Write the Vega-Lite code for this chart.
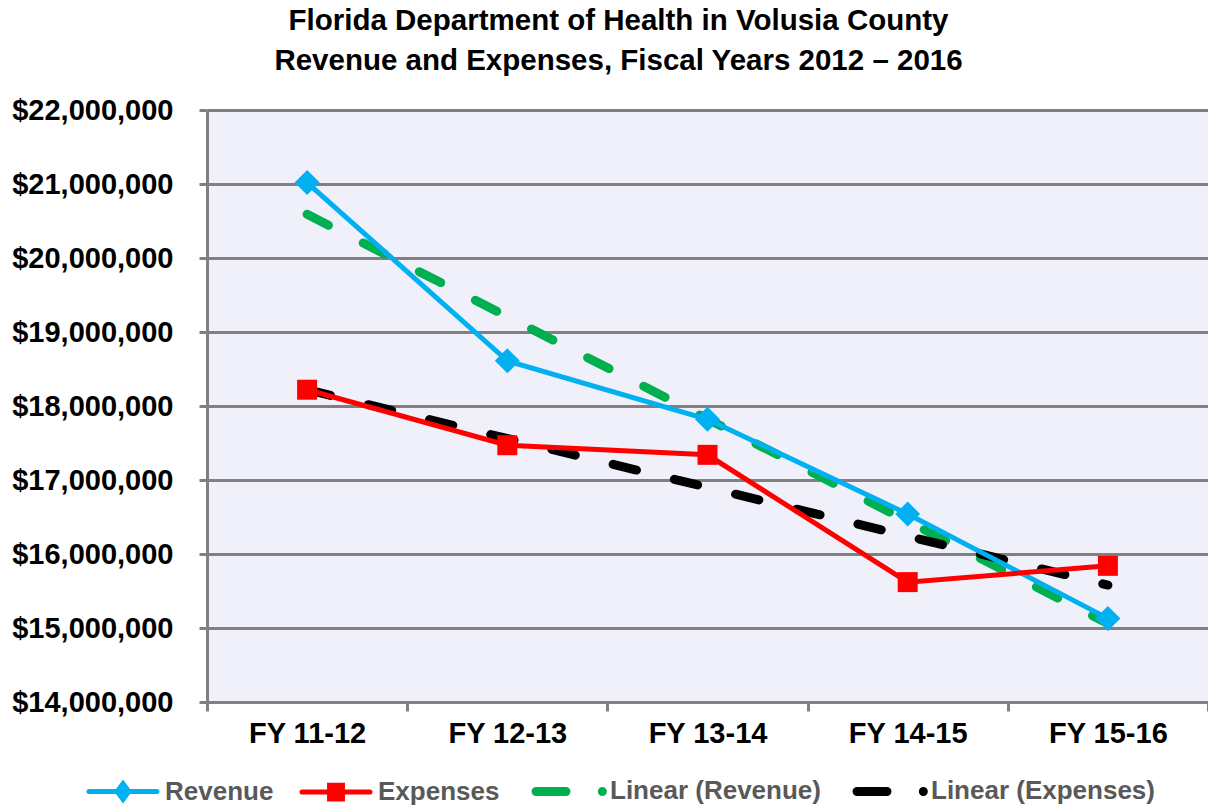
{
  "$schema": "https://vega.github.io/schema/vega-lite/v6.json",
  "autosize": {"type": "none"},
  "padding": {"left": 207, "top": 110, "right": 0, "bottom": 104},
  "width": 1001,
  "height": 592,
  "background": "white",
  "config": {
    "font": "Liberation Sans",
    "view": {"fill": "#F0F0FA", "stroke": null}
  },
  "title": {
    "text": ["Florida Department of Health in Volusia County", "Revenue and Expenses, Fiscal Years 2012 – 2016"],
    "font": "Liberation Sans",
    "fontSize": 29.5,
    "fontWeight": "bold",
    "color": "#000000",
    "lineHeight": 40,
    "anchor": "middle",
    "dx": -89,
    "offset": 20
  },
  "datasets": {
    "actual": [
      {"fy": "FY 11-12", "series": "Revenue", "value": 21020000},
      {"fy": "FY 12-13", "series": "Revenue", "value": 18610000},
      {"fy": "FY 13-14", "series": "Revenue", "value": 17820000},
      {"fy": "FY 14-15", "series": "Revenue", "value": 16540000},
      {"fy": "FY 15-16", "series": "Revenue", "value": 15130000},
      {"fy": "FY 11-12", "series": "Expenses", "value": 18220000},
      {"fy": "FY 12-13", "series": "Expenses", "value": 17470000},
      {"fy": "FY 13-14", "series": "Expenses", "value": 17340000},
      {"fy": "FY 14-15", "series": "Expenses", "value": 15620000},
      {"fy": "FY 15-16", "series": "Expenses", "value": 15840000}
    ],
    "trend": [
      {"fy": "FY 11-12", "series": "Linear (Revenue)", "value": 20590000},
      {"fy": "FY 15-16", "series": "Linear (Revenue)", "value": 15060000},
      {"fy": "FY 11-12", "series": "Linear (Expenses)", "value": 18220000},
      {"fy": "FY 15-16", "series": "Linear (Expenses)", "value": 15580000}
    ]
  },
  "encoding": {
    "x": {
      "field": "fy", "type": "nominal",
      "sort": ["FY 11-12", "FY 12-13", "FY 13-14", "FY 14-15", "FY 15-16"],
      "scale": {"type": "band", "domain": ["FY 11-12", "FY 12-13", "FY 13-14", "FY 14-15", "FY 15-16"], "paddingInner": 0, "paddingOuter": 0},
      "axis": {
        "title": null, "labelAngle": 0, "tickBand": "extent", "grid": false,
        "domainColor": "#808080", "domainWidth": 3,
        "tickColor": "#808080", "tickWidth": 3, "tickSize": 9,
        "labelFont": "Liberation Sans", "labelFontSize": 29, "labelFontWeight": "bold", "labelColor": "#000000",
        "labelPadding": 8
      }
    },
    "y": {
      "field": "value", "type": "quantitative",
      "scale": {"domain": [14000000, 22000000], "nice": false, "zero": false},
      "axis": {
        "title": null, "values": [14000000, 15000000, 16000000, 17000000, 18000000, 19000000, 20000000, 21000000, 22000000],
        "format": "$,.0f",
        "grid": true, "gridColor": "#808080", "gridWidth": 3,
        "domainColor": "#808080", "domainWidth": 3,
        "tickColor": "#808080", "tickWidth": 3, "tickSize": 8,
        "labelFont": "Liberation Sans", "labelFontSize": 29, "labelFontWeight": "bold", "labelColor": "#000000",
        "labelPadding": 26
      }
    }
  },
  "layer": [
    {
      "data": {"name": "trend"},
      "transform": [{"filter": "datum.series === 'Linear (Revenue)'"}],
      "mark": {"type": "line", "strokeWidth": 9, "strokeDash": [24, 39], "strokeCap": "round"},
      "encoding": {
        "color": {"field": "series", "type": "nominal",
          "scale": {"domain": ["Revenue", "Expenses", "Linear (Revenue)", "Linear (Expenses)"], "range": ["#00B0F0", "#FF0000", "#00B050", "#000000"]},
          "legend": {
            "title": null, "orient": "none", "direction": "horizontal", "columns": 4,
            "legendX": -97, "legendY": 668,
            "symbolSize": 4624, "symbolStrokeWidth": 5,
            "labelFont": "Liberation Sans", "labelFontSize": 26, "labelFontWeight": "bold", "labelColor": "#595959",
            "labelOffset": 29, "columnPadding": 18, "labelLimit": 500,
            "encode": {
              "symbols": {
                "update": {
                  "shape": {"signal": "datum.value === 'Revenue' ? 'M-1,0L1,0M0,-0.23L0.17,0L0,0.23L-0.17,0Z' : datum.value === 'Expenses' ? 'M-1,0L1,0M-0.19,-0.2L0.19,-0.2L0.19,0.2L-0.19,0.2Z' : 'M-0.94,0L-0.06,0M1.01,0L1.01,0.001'"},
                  "fill": {"signal": "datum.value === 'Revenue' ? '#00B0F0' : datum.value === 'Expenses' ? '#FF0000' : datum.value === 'Linear (Revenue)' ? '#00B050' : '#000000'"},
                  "stroke": {"signal": "datum.value === 'Revenue' ? '#00B0F0' : datum.value === 'Expenses' ? '#FF0000' : datum.value === 'Linear (Revenue)' ? '#00B050' : '#000000'"},
                  "strokeWidth": {"signal": "datum.value === 'Revenue' || datum.value === 'Expenses' ? 5 : 9"},
                  "strokeCap": {"value": "round"},
                  "opacity": {"value": 1},
                  "fillOpacity": {"value": 1},
                  "strokeOpacity": {"value": 1}
                }
              }
            }
          }
        }
      }
    },
    {
      "data": {"name": "trend"},
      "transform": [{"filter": "datum.series === 'Linear (Expenses)'"}],
      "mark": {"type": "line", "strokeWidth": 9, "strokeDash": [24, 39], "strokeCap": "round"},
      "encoding": {"color": {"field": "series", "type": "nominal"}}
    },
    {
      "data": {"name": "actual"},
      "mark": {"type": "line", "strokeWidth": 5},
      "encoding": {"color": {"field": "series", "type": "nominal"}, "detail": {"field": "series"}}
    },
    {
      "data": {"name": "actual"},
      "transform": [{"filter": "datum.series === 'Expenses'"}],
      "mark": {"type": "point", "shape": "square", "size": 400, "filled": true, "opacity": 1},
      "encoding": {"color": {"field": "series", "type": "nominal"}}
    },
    {
      "data": {"name": "actual"},
      "transform": [{"filter": "datum.series === 'Revenue'"}],
      "mark": {"type": "point", "shape": "diamond", "size": 625, "filled": true, "opacity": 1},
      "encoding": {"color": {"field": "series", "type": "nominal"}}
    }
  ]
}
